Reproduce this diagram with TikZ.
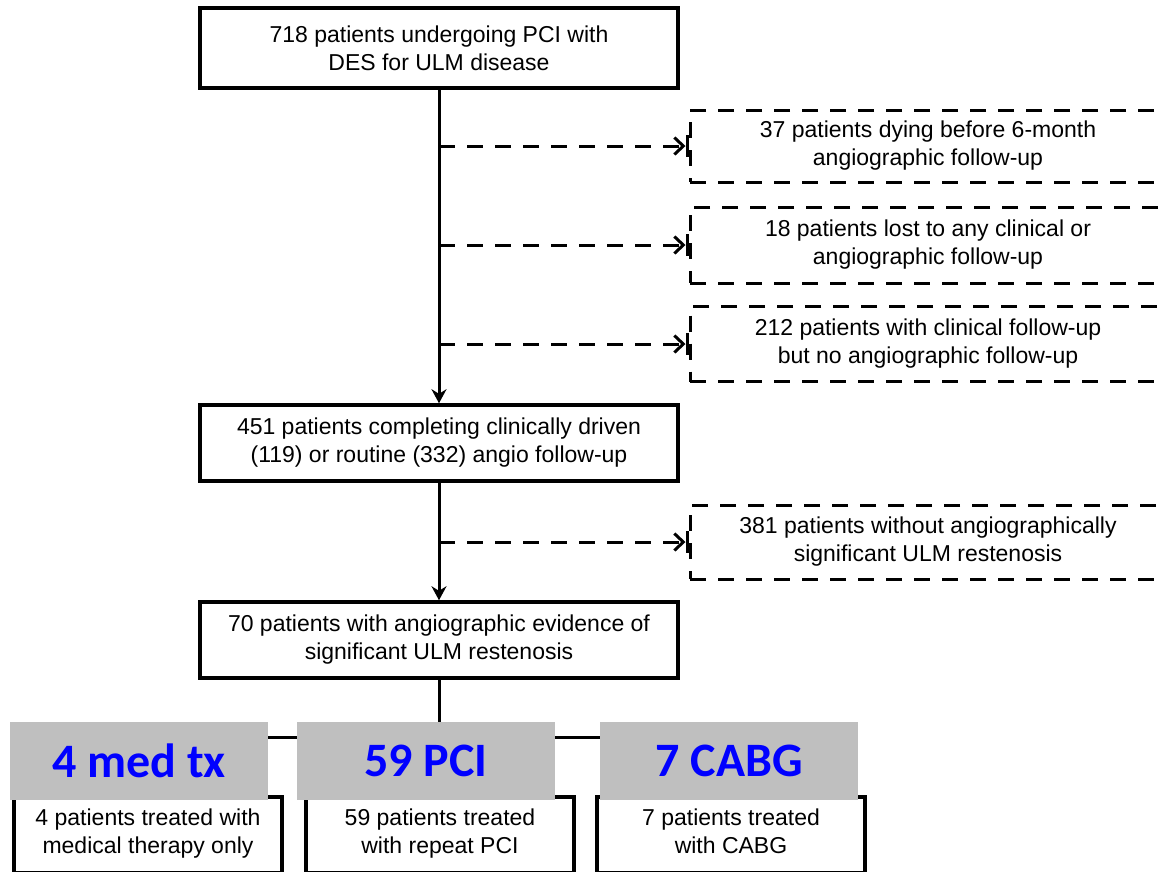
\documentclass[tikz,border=0pt]{standalone}
\usepackage{fontspec}
\setmainfont{Liberation Sans}
\newfontfamily\tagfont{Carlito}
\usetikzlibrary{arrows.meta,positioning}
\definecolor{tagGrey}{RGB}{191,191,191}
\definecolor{tagBlue}{RGB}{0,0,255}

\begin{document}
\begin{tikzpicture}[
  x=1pt,y=1pt,
  every node/.style={font=\fontsize{23}{28}\selectfont},
  flowbox/.style={draw,line width=3.5pt,minimum width=478pt,minimum height=#1,inner sep=0pt,align=center},
  exclbox/.style={draw,line width=3pt,dash pattern=on 16pt off 12pt,minimum width=476pt,minimum height=#1,inner sep=0pt,align=center},
  armbox/.style={draw,line width=3.5pt,minimum width=268pt,minimum height=76pt,inner sep=0pt,align=center,
    execute at begin node=\strut,execute at end node=\strut},
  tagbox/.style={fill=tagGrey,minimum width=258pt,minimum height=78pt,inner sep=0pt,text=tagBlue,font=\tagfont\bfseries\fontsize{48}{52}\selectfont},
  flow/.style={line width=3pt,-{Stealth[length=14pt,width=15pt]}},
  link/.style={line width=3pt},
  excl/.style={line width=3pt,dash pattern=on 16pt off 12pt,-{Straight Barb[length=9pt,width=17pt]Bar[width=22pt]}}
]
  \useasboundingbox (0,0) rectangle (1159,-871);
  \clip (0,0) rectangle (1159,-871);

  % main flow
  \node[flowbox=80pt] (top) at (439,-48) {718 patients undergoing PCI with\\DES for ULM disease};
  \node[flowbox=76pt] (mid) at (439,-443) {451 patients completing clinically driven\\(119) or routine (332) angio follow-up};
  \node[flowbox=76pt] (low) at (439,-640) {70 patients with angiographic evidence of\\significant ULM restenosis};

  % excluded patients
  \node[exclbox=72pt] (d1) at (928,-146) {37 patients dying before 6-month\\angiographic follow-up};
  \node[exclbox=76pt] (d2) at (928,-245) {18 patients lost to any clinical or\\angiographic follow-up};
  \node[exclbox=75pt] (d3) at (928,-344) {212 patients with clinical follow-up\\but no angiographic follow-up};
  \node[exclbox=74pt] (d4) at (928,-542) {381 patients without angiographically\\significant ULM restenosis};

  % treatment arms
  \node[armbox] (arm1) at (148,-835) {4 patients treated with\\medical therapy only};
  \node[armbox] (arm2) at (440,-835) {59 patients treated\\with repeat PCI};
  \node[armbox] (arm3) at (731,-835) {7 patients treated\\with CABG};
  \coordinate (split) at (439,-737);

  \draw[flow] (top) -- (mid);
  \draw[flow] (mid) -- (low);
  \foreach \d in {d1,d2,d3}
    \draw[excl] (top.south |- \d.west) -- (\d.west);
  \draw[excl] (mid.south |- d4.west) -- (d4.west);

  \draw[link] (low.south) -- (split);
  \draw[link] (arm1.north |- split) -- (arm3.north |- split);
  \foreach \a in {arm1,arm2,arm3}
    \draw[flow] (\a.north |- split) -- (\a.north);

  % overlay tags
  \node[tagbox] (tag1) at (139,-761) {4 med tx};
  \node[tagbox] (tag2) at (426,-761) {59 PCI};
  \node[tagbox] (tag3) at (729,-761) {7 CABG};
\end{tikzpicture}
\end{document}
